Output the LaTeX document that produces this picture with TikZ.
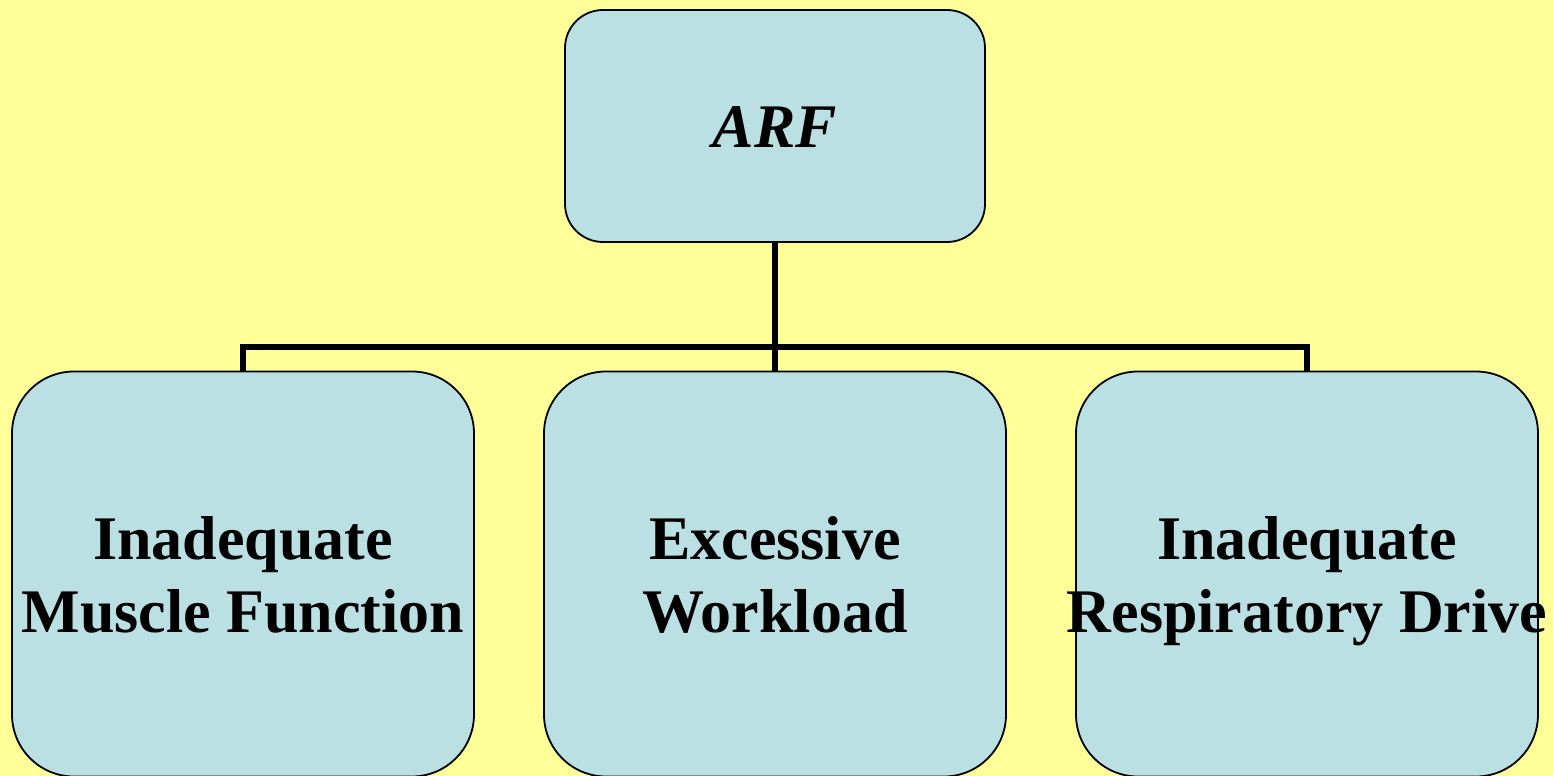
\documentclass[tikz,border=0pt]{standalone}
\usepackage{fontspec}
\setmainfont{Liberation Serif}
% zero-width, centred lines with fixed struts, so every box sets its lines alike;
% the first line carries a taller strut to push the text block a little lower
\newcommand{\firstline}[1]{\makebox[0pt]{\rule[-22pt]{0pt}{87pt}#1}}
\newcommand{\centredline}[1]{\makebox[0pt]{\rule[-22pt]{0pt}{73pt}#1}}
\begin{document}
\begin{tikzpicture}[x=1pt,y=-1pt,
  bg/.style={fill=yellowbg},
  causebox/.style={draw=black, line width=1.8pt, fill=boxblue,
    rounded corners=62pt, minimum width=462pt, minimum height=405pt,
    inner sep=0pt, align=center,
    font=\fontsize{62}{73}\selectfont\bfseries},
  rootbox/.style={causebox, rounded corners=38pt,
    minimum width=420pt, minimum height=232pt,
    font=\fontsize{62}{74}\selectfont\bfseries\itshape},
  link/.style={draw=black, line width=5.4pt, line join=miter}]
\definecolor{yellowbg}{HTML}{FFFF99}
\definecolor{boxblue}{HTML}{BBE0E3}
\path[bg] (0,0) rectangle (1553,776);
\useasboundingbox (0,0) rectangle (1553,776);

% root node
\node[rootbox] (arf) at (775,126) {\firstline{ARF}};

% the three causes
\node[causebox] (muscle) at (243,574) {\firstline{Inadequate}\\\centredline{Muscle Function}};
\node[causebox] (work)   at (775,574) {\firstline{Excessive}\\\centredline{Workload}};
\node[causebox] (drive)  at (1307,574) {\firstline{Inadequate}\\\centredline{Respiratory Drive}};

% tree connectors
\coordinate (bar) at (775,347);
\draw[link] (arf.south) -- (work.north);
\draw[link] (muscle.north) -- (muscle.north |- bar) -- (drive.north |- bar) -- (drive.north);
\end{tikzpicture}
\end{document}
